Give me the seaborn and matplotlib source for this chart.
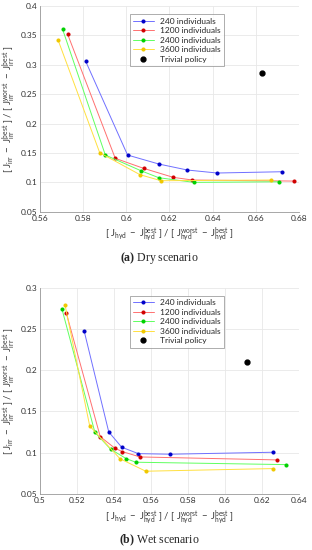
import numpy as np
import pandas as pd
import matplotlib
matplotlib.use("Agg")
import matplotlib.pyplot as plt
import seaborn as sns
from matplotlib.ticker import FormatStrFormatter

# series names
labels = ["240 individuals", "1200 individuals", "2400 individuals", "3600 individuals"]

# dry scenario
dry_x_240 = [0.5812, 0.6006, 0.6151, 0.6283, 0.6421, 0.6723]
dry_y_240 = [0.306, 0.1465, 0.1312, 0.121, 0.1159, 0.1181]
dry_x_1200 = [0.5728, 0.5949, 0.6080, 0.6218, 0.6306, 0.6776]
dry_y_1200 = [0.3524, 0.1409, 0.1239, 0.1085, 0.104, 0.1022]
dry_x_2400 = [0.5705, 0.5903, 0.6068, 0.6151, 0.6313, 0.6708]
dry_y_2400 = [0.3604, 0.1465, 0.1198, 0.1079, 0.1000, 0.1010]
dry_x_3600 = [0.5684, 0.5877, 0.6064, 0.6161, 0.6669]
dry_y_3600 = [0.3422, 0.1504, 0.1130, 0.1028, 0.1040]
dry_trivial = (0.6628, 0.2855)

# wet scenario
wet_x_240 = [0.5239, 0.5372, 0.5442, 0.5532, 0.5705, 0.6262]
wet_y_240 = [0.2475, 0.1251, 0.1066, 0.0988, 0.0981, 0.1005]
wet_x_1200 = [0.5143, 0.5326, 0.5405, 0.5445, 0.5541, 0.6283]
wet_y_1200 = [0.2689, 0.1194, 0.1054, 0.1013, 0.0948, 0.0912]
wet_x_2400 = [0.5119, 0.5297, 0.5382, 0.5466, 0.5518, 0.6330]
wet_y_2400 = [0.2741, 0.1247, 0.1042, 0.0928, 0.0884, 0.0855]
wet_x_3600 = [0.5136, 0.5269, 0.5433, 0.5572, 0.6262]
wet_y_3600 = [0.2786, 0.1324, 0.0926, 0.0775, 0.0807]
wet_trivial = (0.6122, 0.2103)

line_colors = ["#7070ff", "#ff7070", "#60ff60", "#ffe040"]
marker_colors = ["#0000c8", "#d00000", "#00d000", "#f0c800"]


def make_df(xs, ys):
    rows = []
    for name, x, y in zip(labels, xs, ys):
        for i, (a, b) in enumerate(zip(x, y)):
            rows.append({"series": name, "order": i, "x": a, "y": b})
    return pd.DataFrame(rows)


sns.set_style("whitegrid")
plt.rcParams["font.family"] = ["Lato", "DejaVu Sans"]
plt.rcParams["mathtext.fontset"] = "custom"
plt.rcParams["mathtext.rm"] = "Lato"
plt.rcParams["mathtext.it"] = "Lato:italic"
plt.rcParams["mathtext.bf"] = "Liberation Serif:bold"

fig = plt.figure(figsize=(3.12, 5.5), dpi=100)
ax1 = fig.add_axes([0.128, 0.615, 0.83, 0.374])
ax2 = fig.add_axes([0.128, 0.102, 0.83, 0.375])

xlab = r"$\mathrm{[\ J_{hyd}\ -\ J_{hyd}^{best}\ ]\ /\ [\ J_{hyd}^{worst}\ -\ J_{hyd}^{best}\ ]}$"
ylab = r"$\mathrm{[\ J_{irr}\ -\ J_{irr}^{best}\ ]\ /\ [\ J_{irr}^{worst}\ -\ J_{irr}^{best}\ ]}$"

panels = [
    (ax1, make_df([dry_x_240, dry_x_1200, dry_x_2400, dry_x_3600],
                  [dry_y_240, dry_y_1200, dry_y_2400, dry_y_3600]), dry_trivial,
     (0.56, 0.68), np.arange(0.56, 0.681, 0.02), (0.05, 0.4), np.arange(0.05, 0.401, 0.05),
     "Dry scenario", "a"),
    (ax2, make_df([wet_x_240, wet_x_1200, wet_x_2400, wet_x_3600],
                  [wet_y_240, wet_y_1200, wet_y_2400, wet_y_3600]), wet_trivial,
     (0.5, 0.64), np.arange(0.5, 0.641, 0.02), (0.05, 0.3), np.arange(0.05, 0.301, 0.05),
     "Wet scenario", "b"),
]

for ax, df, triv, xl, xt, yl, yt, cap, letter in panels:
    for name, lc, mc in zip(labels, line_colors, marker_colors):
        sub = df[df["series"] == name]
        sns.lineplot(data=sub, x="x", y="y", sort=False, ax=ax, color=lc, lw=0.7,
                     marker="o", markersize=2.2, markerfacecolor=mc, markeredgecolor=mc,
                     label=name)
    ax.plot([triv[0]], [triv[1]], "o", color="black", markersize=3.5,
            linestyle="none", label="Trivial policy")
    ax.set_xlim(*xl)
    ax.set_ylim(*yl)
    ax.set_xticks(xt)
    ax.set_yticks(yt)
    ax.xaxis.set_major_formatter(FormatStrFormatter("%g"))
    ax.yaxis.set_major_formatter(FormatStrFormatter("%g"))
    ax.tick_params(labelsize=6, length=0, pad=2, colors="#333333")
    ax.grid(True, color="#e8e8e8", lw=0.6)
    for s in ["top", "right"]:
        ax.spines[s].set_visible(False)
    for s in ["left", "bottom"]:
        ax.spines[s].set_color("#999999")
        ax.spines[s].set_linewidth(0.6)
    ax.set_xlabel(xlab, fontsize=6.8, color="#333333", labelpad=3)
    ax.set_ylabel(ylab, fontsize=7.0, color="#333333", labelpad=2)
    leg = ax.legend(loc="upper left", bbox_to_anchor=(0.33, 0.98), fontsize=6,
                    frameon=True, fancybox=False, edgecolor="#888888",
                    handlelength=2.5, borderpad=0.4, labelspacing=0.3)
    leg.get_frame().set_linewidth(0.6)
    # caption below panel
    bb = ax.get_position()
    fig.text(0.51, bb.y0 - 0.085, r"$\mathbf{(%s)}$ %s" % (letter, cap),
             ha="center", va="center", fontsize=8.5, family="Liberation Serif")

fig.savefig("out.png", dpi=100)
